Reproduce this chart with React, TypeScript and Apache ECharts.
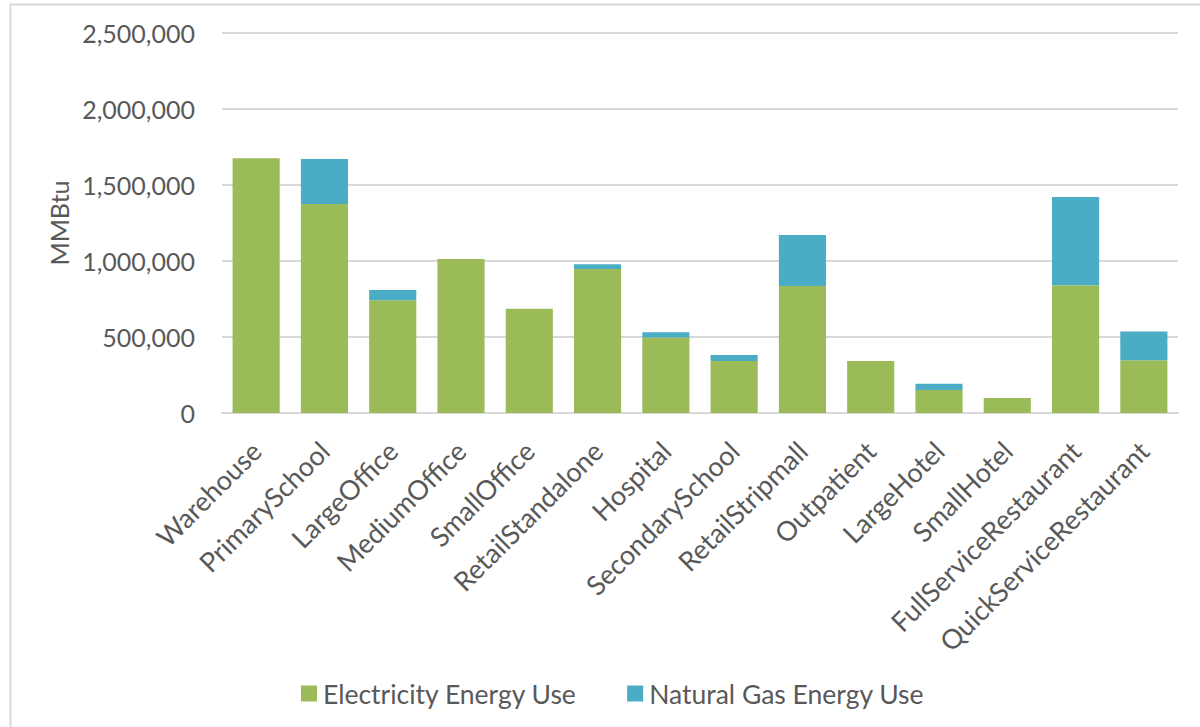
import React, { useEffect, useRef } from "react";
import * as echarts from "echarts";

const categories = [
  "Warehouse",
  "PrimarySchool",
  "LargeOffice",
  "MediumOffice",
  "SmallOffice",
  "RetailStandalone",
  "Hospital",
  "SecondarySchool",
  "RetailStripmall",
  "Outpatient",
  "LargeHotel",
  "SmallHotel",
  "FullServiceRestaurant",
  "QuickServiceRestaurant",
];

const electricity = [
  1676000, 1375000, 741000, 1013000, 686000, 947000, 496000, 342000, 836000,
  342000, 151000, 99000, 840000, 347000,
];

const naturalGas = [
  0, 296000, 68000, 0, 0, 31000, 35000, 40000, 335000, 0, 42000, 0, 581000,
  190000,
];

const yTicks = [0, 500000, 1000000, 1500000, 2000000, 2500000];

const FONT = "Lato, 'Open Sans', sans-serif";
const TEXT = "#595959";

export default function App() {
  const ref = useRef<HTMLDivElement>(null);

  useEffect(() => {
    if (!ref.current) return;
    const chart = echarts.init(ref.current, undefined, { renderer: "svg" });
    chart.setOption({
      animation: false,
      backgroundColor: "#ffffff",
      textStyle: { fontFamily: FONT, color: TEXT },
      grid: { left: 222, right: 22, top: 33, bottom: 314, containLabel: false },
      legend: {
        left: 296,
        top: 675,
        itemWidth: 16,
        itemHeight: 16,
        itemGap: 50,
        icon: "rect",
        textStyle: { fontFamily: FONT, fontSize: 26.5, color: TEXT, padding: [0, 0, 0, 1] },
        data: ["Electricity Energy Use", "Natural Gas Energy Use"],
      },
      graphic: [
        {
          type: "rect",
          left: 8,
          top: 2,
          shape: { x: 0, y: 0, width: 1250, height: 800 },
          style: { fill: "none", stroke: "#d9d9d9", lineWidth: 2 },
          silent: true,
        },
        {
          type: "text",
          x: 59,
          y: 223,
          rotation: Math.PI / 2,
          style: {
            text: "MMBtu",
            fontFamily: FONT,
            fontSize: 25,
            fill: TEXT,
            align: "center",
            verticalAlign: "middle",
          },
        },
      ],
      xAxis: {
        type: "category",
        data: categories,
        axisTick: { show: false },
        axisLine: { lineStyle: { color: "#d9d9d9", width: 2 } },
        axisLabel: {
          rotate: 45,
          interval: 0,
          margin: 33,
          fontFamily: FONT,
          fontSize: 27,
          color: TEXT,
        },
      },
      yAxis: {
        type: "value",
        min: yTicks[0],
        max: yTicks[yTicks.length - 1],
        interval: 500000,
        axisLine: { show: false },
        axisTick: { show: false },
        splitLine: { lineStyle: { color: "#d9d9d9", width: 2 } },
        axisLabel: {
          margin: 27,
          fontFamily: FONT,
          fontSize: 25,
          color: TEXT,
          formatter: (v: number) => v.toLocaleString("en-US"),
        },
      },
      series: [
        {
          name: "Electricity Energy Use",
          type: "bar",
          stack: "total",
          data: electricity,
          barCategoryGap: "31%",
          itemStyle: { color: "#9BBB59" },
        },
        {
          name: "Natural Gas Energy Use",
          type: "bar",
          stack: "total",
          data: naturalGas,
          barCategoryGap: "31%",
          itemStyle: { color: "#4BACC6" },
        },
      ],
    });
    return () => chart.dispose();
  }, []);

  return (
    <div
      ref={ref}
      style={{ position: "fixed", left: 0, top: 0, width: 1200, height: 727 }}
    />
  );
}
